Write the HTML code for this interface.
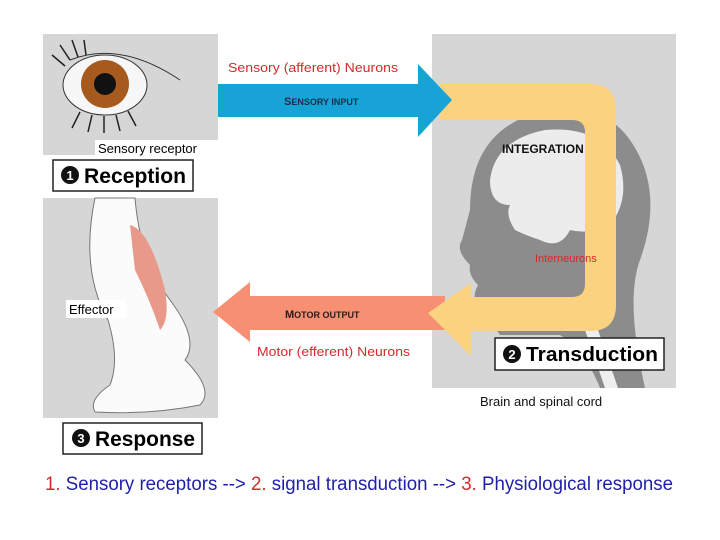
<!DOCTYPE html>
<html><head><style>
body{margin:0;background:#fff;width:720px;height:540px;overflow:hidden}
svg{display:block}
text{font-family:"Liberation Sans",sans-serif}
</style></head><body>
<svg width="720" height="540" viewBox="0 0 720 540">
<!-- panels -->
<rect x="43" y="34" width="175" height="121" fill="#d6d6d6"/>
<rect x="43" y="198" width="175" height="220" fill="#d6d6d6"/>
<rect x="432" y="34" width="244" height="354" fill="#d6d6d6"/>
<!-- head silhouette -->
<path d="M470 210 Q470 130 540 112 Q600 98 630 140 Q665 190 640 260 Q625 300 645 388 L600 388 Q585 350 560 335 L500 335 Q490 320 480 312 Q470 300 478 285 Q468 275 470 265 Q455 250 462 240 Z" fill="#8c8c8c"/>
<path d="M585 330 L605 388 L618 388 L598 330 Z" fill="#eeeeee"/>
<path d="M490 180 Q495 140 545 130 Q600 125 620 165 Q630 200 610 225 Q590 235 570 230 Q560 250 540 240 Q525 235 515 230 Q505 215 510 205 Q490 205 490 180 Z" fill="#ececec"/>
<!-- eye -->
<ellipse cx="105" cy="85" rx="42" ry="30" fill="#f7f7f7" stroke="#333"/>
<circle cx="105" cy="84" r="24" fill="#a65a1e"/>
<circle cx="105" cy="84" r="11" fill="#111"/>
<path d="M70 60 Q120 40 180 80" stroke="#333" fill="none"/>
<g stroke="#222" stroke-width="1.5">
<line x1="70" y1="60" x2="60" y2="45"/><line x1="78" y1="57" x2="72" y2="40"/><line x1="65" y1="66" x2="52" y2="55"/><line x1="86" y1="55" x2="84" y2="40"/>
<line x1="80" y1="112" x2="72" y2="128"/><line x1="92" y1="115" x2="88" y2="132"/><line x1="104" y1="116" x2="104" y2="133"/><line x1="116" y1="115" x2="120" y2="131"/><line x1="128" y1="111" x2="136" y2="126"/>
</g>
<rect x="95" y="140" width="123" height="17" fill="#fff"/>
<text x="98" y="153" font-size="13">Sensory receptor</text>
<!-- leg -->
<path d="M95 198 L135 198 Q140 260 170 300 Q200 340 185 360 Q215 390 200 405 Q150 415 95 412 Q88 400 110 385 Q120 360 108 320 Q80 270 95 198 Z" fill="#fbfbfb" stroke="#777"/>
<path d="M130 225 Q150 230 165 290 Q170 320 160 330 Q150 300 135 270 Z" fill="#e8998a"/>
<rect x="66" y="300" width="60" height="18" fill="#fff"/>
<text x="69" y="314" font-size="13">Effector</text>
<!-- boxes -->
<rect x="53" y="160" width="140" height="31" fill="#fff" stroke="#222" stroke-width="1.5"/>
<circle cx="70" cy="175" r="9" fill="#111"/><text x="70" y="180" font-size="13" fill="#fff" text-anchor="middle" font-weight="bold">1</text>
<text x="84" y="183" font-size="21" font-weight="bold" textLength="102" lengthAdjust="spacingAndGlyphs">Reception</text>
<rect x="63" y="423" width="139" height="31" fill="#fff" stroke="#222" stroke-width="1.5"/>
<circle cx="81" cy="438" r="9" fill="#111"/><text x="81" y="443" font-size="13" fill="#fff" text-anchor="middle" font-weight="bold">3</text>
<text x="95" y="446" font-size="21" font-weight="bold" textLength="100" lengthAdjust="spacingAndGlyphs">Response</text>
<!-- salmon arrow -->
<path d="M445 296 L250 296 L250 282 L213 312 L250 342 L250 330 L445 330 Z" fill="#f78f73"/>
<!-- yellow U -->
<path d="M440 84 L590 84 Q616 84 616 110 L616 305 Q616 331 590 331 L471 331 L471 356 L428 313 L471 283 L471 297 L572 297 Q585 297 585 284 L585 132 Q585 120 572 120 L440 120 Z" fill="#fbd27f"/>
<!-- blue arrow -->
<path d="M218 84 L418 84 L418 64 L452 100 L418 137 L418 117 L218 117 Z" fill="#17a3d6"/>
<text x="284" y="105" font-size="11" font-weight="bold" fill="#1a2d4a">S<tspan font-size="9">ENSORY INPUT</tspan></text>
<text x="228" y="72" font-size="13" fill="#d42a2a" textLength="170" lengthAdjust="spacingAndGlyphs">Sensory (afferent) Neurons</text>
<text x="285" y="318" font-size="11" font-weight="bold" fill="#2a1a1a">M<tspan font-size="9">OTOR OUTPUT</tspan></text>
<text x="257" y="356" font-size="13" fill="#d42a2a" textLength="153" lengthAdjust="spacingAndGlyphs">Motor (efferent) Neurons</text>
<text x="502" y="153" font-size="12" font-weight="bold" fill="#111">INTEGRATION</text>
<text x="535" y="262" font-size="11" fill="#d42a2a">Interneurons</text>
<rect x="495" y="338" width="169" height="32" fill="#fff" stroke="#222" stroke-width="1.5"/>
<circle cx="512" cy="354" r="9" fill="#111"/><text x="512" y="359" font-size="13" fill="#fff" text-anchor="middle" font-weight="bold">2</text>
<text x="526" y="361" font-size="20" font-weight="bold" textLength="132" lengthAdjust="spacingAndGlyphs">Transduction</text>
<text x="480" y="406" font-size="13" fill="#111">Brain and spinal cord</text>
<!-- bottom line -->
<text x="45" y="490" font-size="19" fill="#1f1fa8" textLength="628" lengthAdjust="spacingAndGlyphs"><tspan fill="#d42a2a">1.</tspan> Sensory receptors  --&gt; <tspan fill="#d42a2a">2.</tspan> signal transduction   --&gt; <tspan fill="#d42a2a">3.</tspan> Physiological response</text>
</svg>
</body></html>
